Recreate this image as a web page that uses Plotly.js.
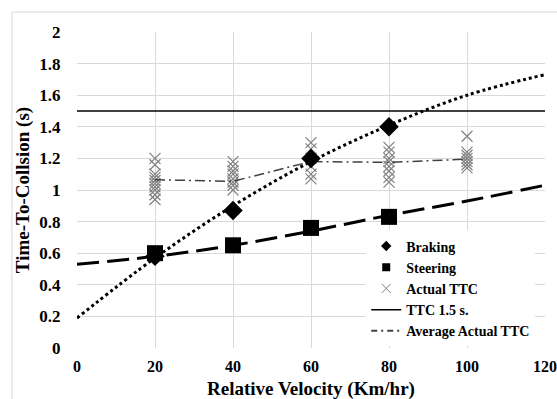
<!DOCTYPE html>
<html><head><meta charset="utf-8">
<script src="https://cdn.plot.ly/plotly-3.0.1.min.js"></script>
<style>html,body{margin:0;padding:0;background:#fff}#chart{width:557px;height:399px}</style>
</head><body><div id="chart"></div>
<script>
// Data
const velocities = [20, 40, 60, 80];
const braking = [0.58, 0.87, 1.20, 1.40];
const steering = [0.60, 0.65, 0.76, 0.83];

const actualX = [20,20,20,20,20,20,20,20,20,20,
                 40,40,40,40,40,40,40,40,
                 60,60,60,60,60,60,
                 80,80,80,80,80,80,80,80,
                 100,100,100,100,100,100,100];
const actualY = [1.20,1.16,1.10,1.08,1.06,1.04,1.02,1.00,0.97,0.94,
                 1.18,1.15,1.12,1.10,1.07,1.05,1.03,1.00,
                 1.30,1.26,1.20,1.15,1.10,1.07,
                 1.27,1.24,1.20,1.18,1.15,1.12,1.08,1.05,
                 1.34,1.24,1.22,1.20,1.18,1.16,1.14];

const avgX = [20, 40, 60, 80, 100];
const avgY = [1.065, 1.055, 1.18, 1.175, 1.195];

const ttcX = [0, 120];
const ttcY = [1.5, 1.5];

// Trendlines
const brakeTrendX = [0, 20, 40, 60, 80, 100, 120];
const brakeTrendY = [0.19, 0.57, 0.90, 1.18, 1.41, 1.60, 1.73];
const steerTrendX = [0, 20, 40, 60, 80, 100, 120];
const steerTrendY = [0.53, 0.58, 0.65, 0.74, 0.84, 0.93, 1.03];

const xTicks = [0, 20, 40, 60, 80, 100, 120];
const yTicks = [0, 0.2, 0.4, 0.6, 0.8, 1, 1.2, 1.4, 1.6, 1.8, 2];
const yTickText = ["0","0.2","0.4","0.6","0.8","1","1.2","1.4","1.6","1.8","2"];
const xTitle = 'Relative Velocity (Km/hr)';
const yTitle = 'Time-To-Collsion (s)';

const F = "Liberation Serif, Times New Roman, serif";

const traces = [
  {x: brakeTrendX, y: brakeTrendY, mode: 'lines', line: {color: '#000', width: 3, dash: 'dot', shape: 'spline'}, showlegend: false, hoverinfo: 'skip'},
  {x: steerTrendX, y: steerTrendY, mode: 'lines', line: {color: '#000', width: 3, dash: '22px,8px', shape: 'spline'}, showlegend: false, hoverinfo: 'skip'},
  {x: ttcX, y: ttcY, mode: 'lines', line: {color: '#000', width: 1.5}, showlegend: false},
  {x: actualX, y: actualY, mode: 'markers', marker: {symbol: 'x-thin-open', size: 11, color: '#808080', line: {color: '#808080', width: 1.2}}, showlegend: false},
  {x: avgX, y: avgY, mode: 'lines', line: {color: '#404040', width: 1.5, dash: '10px,4px,2px,4px'}, showlegend: false},
  {x: velocities, y: braking, mode: 'markers', marker: {symbol: 'diamond', size: 15, color: '#000'}, showlegend: false},
  {x: velocities, y: steering, mode: 'markers', marker: {symbol: 'square', size: 16, color: '#000'}, showlegend: false},
  // legend entries
  {x: [null], y: [null], name: 'Braking', mode: 'markers', marker: {symbol: 'diamond', size: 8, color: '#000'}},
  {x: [null], y: [null], name: 'Steering', mode: 'markers', marker: {symbol: 'square', size: 8, color: '#000'}},
  {x: [null], y: [null], name: 'Actual TTC', mode: 'markers', marker: {symbol: 'x-thin-open', size: 9, color: '#808080', line: {color: '#808080', width: 1}}},
  {x: [null], y: [null], name: 'TTC 1.5 s.', mode: 'lines', line: {color: '#000', width: 1.5}},
  {x: [null], y: [null], name: 'Average Actual TTC', mode: 'lines', line: {color: '#404040', width: 2, dash: '6px,4px,2px,4px'}}
];

const layout = {
  width: 557, height: 399,
  margin: {l: 77, r: 12, t: 32, b: 51},
  paper_bgcolor: '#fff', plot_bgcolor: '#fff',
  font: {family: F, color: '#000', size: 15, weight: 'bold'},
  xaxis: {
    range: [0, 120], tickvals: xTicks, ticktext: xTicks.map(String),
    showgrid: true, gridcolor: '#d9d9d9', gridwidth: 1, zeroline: false,
    showline: false, ticks: 'outside', ticklen: 4, tickcolor: '#fff',
    ticklabeloverflow: 'allow',
    tickfont: {family: F, size: 16, weight: 'bold'}
  },
  yaxis: {
    range: [0, 2], tickvals: yTicks, ticktext: yTickText,
    showgrid: true, gridcolor: '#d9d9d9', gridwidth: 1, zeroline: false,
    showline: false, ticks: 'outside', ticklen: 12, tickcolor: '#fff',
    tickfont: {family: F, size: 17, weight: 'bold'},
    title: {text: yTitle, font: {family: F, size: 19, weight: 'bold'}, standoff: 4}
  },
  annotations: [
    {text: xTitle, xref: 'paper', yref: 'paper', x: 0.5, y: -0.13, xanchor: 'center', yanchor: 'middle',
     showarrow: false, font: {family: F, size: 19, weight: 'bold', color: '#000'}}
  ],
  legend: {
    x: 0.618, y: 0.372, xanchor: 'left', yanchor: 'top',
    bgcolor: '#fff', borderwidth: 0,
    font: {family: F, size: 14, weight: 'bold'},
    itemwidth: 30, tracegroupgap: 0
  },
  shapes: [
    {type: 'rect', xref: 'paper', yref: 'paper', x0: -0.139, x1: 1.2, y0: -0.3, y1: 1.063,
     line: {color: '#d9d9d9', width: 1}, fillcolor: 'rgba(0,0,0,0)', layer: 'below'}
  ],
  showlegend: true
};

Plotly.newPlot('chart', traces, layout, {displayModeBar: false, staticPlot: true});
</script></body></html>
